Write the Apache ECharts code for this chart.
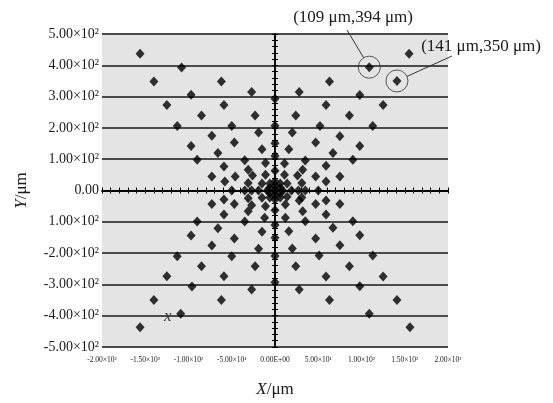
<!DOCTYPE html>
<html>
<head>
<meta charset="utf-8">
<script src="https://cdn.jsdelivr.net/npm/echarts@6/dist/echarts.min.js"></script>
<style>
html, body { margin: 0; padding: 0; background: #fff; }
#chart { width: 553px; height: 403px; }
</style>
</head>
<body>
<div id="chart"></div>
<script>
// tick labels as printed on the figure (the -100 label has lost its minus sign there)
const xTickLabels = ['-2.00×10²', '-1.50×10²', '-1.00×10²', '-5.00×10¹', '0.00E+00', '5.00×10¹', '1.00×10²', '1.50×10²', '2.00×10²']
const yTickLabels = ['-5.00×10²', '-4.00×10²', '-3.00×10²', '-2.00×10²', '1.00×10²', '0.00', '1.00×10²', '2.00×10²', '3.00×10²', '4.00×10²', '5.00×10²']

// hole positions, µm
const upperRight = [
  [155, 437], [109, 394], [141, 350], [63, 348], [28, 315], [98, 305], [125, 273], [59, 273],
  [86, 240], [24, 240], [113, 206], [52, 206], [75, 173], [20, 185], [98, 142], [47, 153],
  [16, 132], [90, 98], [67, 120], [35, 96], [59, 79], [32, 66], [11, 86], [75, 45],
  [47, 45], [26, 48], [11, 50], [59, 29], [31, 24], [14, 22],
]
const upperLeft = [
  [-156, 437], [-108, 393], [-140, 348], [-62, 348], [-27, 315], [-97, 306], [-125, 273], [-59, 273],
  [-85, 240], [-23, 240], [-113, 206], [-50, 206], [-73, 175], [-19, 185], [-97, 142], [-47, 153],
  [-15, 132], [-90, 98], [-66, 120], [-35, 97], [-59, 77], [-31, 66], [-11, 88], [-73, 45],
  [-46, 45], [-26, 48], [-11, 50], [-58, 29], [-31, 24], [-15, 22],
]
const lowerLeft = [
  [-156, -437], [-109, -394], [-140, -350], [-62, -350], [-27, -316], [-96, -307], [-125, -274], [-59, -274],
  [-85, -242], [-23, -242], [-113, -210], [-50, -210], [-73, -176], [-19, -186], [-97, -144], [-47, -153],
  [-15, -132], [-90, -99], [-66, -121], [-35, -99], [-59, -77], [-31, -66], [-12, -87], [-73, -43],
  [-47, -43], [-27, -47], [-11, -50], [-59, -29], [-31, -25], [-15, -23],
]
const lowerRight = [
  [156, -437], [109, -394], [141, -350], [63, -350], [28, -316], [98, -306], [125, -275], [59, -275],
  [86, -242], [24, -242], [113, -208], [51, -208], [75, -175], [20, -185], [98, -143], [47, -153],
  [16, -130], [90, -98], [67, -119], [35, -98], [59, -77], [32, -66], [12, -87], [75, -43],
  [47, -43], [12, -45], [28, -32], [59, -32], [31, -22], [14, -20],
]
const onAxes = [
  [0, 293], [0, 207], [0, 151], [0, 110], [0, 63], [0, 29], [0, 14], [0, 0],
  [0, -14], [0, -29], [0, -63], [0, -110], [0, -151], [0, -209], [0, -293],
  [-50, 0], [-35, 0], [-27, 0], [-19, 0], [-9, 0], [9, 0], [19, 0], [27, 0], [35, 0], [50, 0],
  [-6, 8], [6, 8], [-6, -8], [6, -8], [-6, 22], [6, 22], [-6, -22], [6, -22],
]

const markedPoints = [[109, 394], [141, 350]]
const markedTexts = ['(109 μm,394 μm)', '(141 μm,350 μm)']
const captionPos = [[353, 18], [481, 47]]
const leaderEnds = [[347, 30], [452, 56]]
const crossMark = [-124, -404]

const serif = '"Liberation Serif", "Times New Roman", serif'
const ink = '#1a1a1a'

const chart = echarts.init(document.getElementById('chart'))

function centreX(onZeroIdx, inside) {
  return {
    type: 'value', min: -200, max: 200, interval: 10, position: 'bottom',
    axisLine: { onZero: true, onZeroAxisIndex: onZeroIdx, lineStyle: { color: '#000', width: 1.5 } },
    axisTick: { show: true, inside, length: 3, lineStyle: { color: '#000', width: 1 } },
    axisLabel: { show: false },
    splitLine: { show: false },
  }
}

function centreY(onZeroIdx, inside) {
  return {
    type: 'value', min: -500, max: 500, interval: 20, position: 'left',
    axisLine: { onZero: true, onZeroAxisIndex: onZeroIdx, lineStyle: { color: '#000', width: 1.5 } },
    axisTick: { show: true, inside, length: 3, lineStyle: { color: '#000', width: 1 } },
    axisLabel: { show: false },
    splitLine: { show: false },
  }
}

const nameStyle = {
  fontFamily: serif, fontSize: 17, color: ink,
  rich: { i: { fontFamily: serif, fontSize: 17, fontStyle: 'italic', color: ink } },
}

chart.setOption({
  animation: false,
  backgroundColor: '#fff',
  grid: {
    left: 102, top: 34, width: 346, height: 313,
    show: true, backgroundColor: '#e4e4e4', borderWidth: 0,
    containLabel: false, outerBoundsMode: 'none',
  },
  xAxis: [
    {
      type: 'value', min: -200, max: 200, interval: 50, position: 'bottom',
      axisLine: { show: false, onZero: false },
      axisTick: { show: false },
      splitLine: { show: false },
      axisLabel: {
        fontFamily: serif, fontSize: 7.5, color: ink, margin: 9,
        showMinLabel: true, showMaxLabel: true,
        formatter: (v) => xTickLabels[Math.round((v + 200) / 50)],
      },
      name: '{i|X}/μm', nameLocation: 'middle', nameGap: 34, nameTextStyle: nameStyle,
    },
    centreX(0, true),
    centreX(1, false),
  ],
  yAxis: [
    {
      type: 'value', min: -500, max: 500, interval: 100, position: 'left',
      axisLine: { show: false, onZero: false },
      axisTick: { show: false },
      splitLine: { show: true, lineStyle: { color: '#4a4a4a', width: 2 } },
      axisLabel: {
        fontFamily: serif, fontSize: 14, color: ink, margin: 3,
        showMinLabel: true, showMaxLabel: true,
        formatter: (v) => yTickLabels[Math.round((v + 500) / 100)],
      },
      name: '{i|Y}/μm', nameLocation: 'middle', nameRotate: 90, nameGap: 72, nameTextStyle: nameStyle,
    },
    centreY(0, true),
    centreY(1, false),
  ],
  series: [
    {
      type: 'scatter',
      xAxisIndex: 0, yAxisIndex: 0,
      symbol: 'diamond', symbolSize: [9, 10],
      itemStyle: { color: '#000' },
      data: [...upperLeft, ...upperRight, ...lowerLeft, ...lowerRight, ...onAxes],
      z: 5,
    },
    {
      type: 'scatter',
      xAxisIndex: 0, yAxisIndex: 0,
      symbol: 'circle', symbolSize: 22,
      itemStyle: { color: 'rgba(0,0,0,0)', borderColor: '#333', borderWidth: 1 },
      data: markedPoints,
      z: 6,
    },
  ],
})

// annotations: leader lines from the circled holes to their captions
const r = 11
const graphics = []
markedPoints.forEach((p, i) => {
  const [px, py] = chart.convertToPixel({ seriesIndex: 0 }, p)
  const [ex, ey] = leaderEnds[i]
  const len = Math.hypot(ex - px, ey - py)
  graphics.push({
    type: 'line',
    shape: { x1: px + (ex - px) / len * r, y1: py + (ey - py) / len * r, x2: ex, y2: ey },
    style: { stroke: '#333', lineWidth: 1 },
    z: 10,
  })
  graphics.push({
    type: 'text',
    x: captionPos[i][0], y: captionPos[i][1],
    style: { text: markedTexts[i], fontFamily: serif, fontSize: 17, fill: ink, align: 'center', verticalAlign: 'middle' },
    z: 10,
  })
})
const [cx, cy] = chart.convertToPixel({ seriesIndex: 0 }, crossMark)
graphics.push({
  type: 'text',
  x: cx, y: cy,
  style: { text: 'x', fontFamily: serif, fontSize: 17, fontStyle: 'italic', fill: '#333', align: 'center', verticalAlign: 'middle' },
  z: 10,
})
chart.setOption({ graphic: graphics })
</script>
</body>
</html>
